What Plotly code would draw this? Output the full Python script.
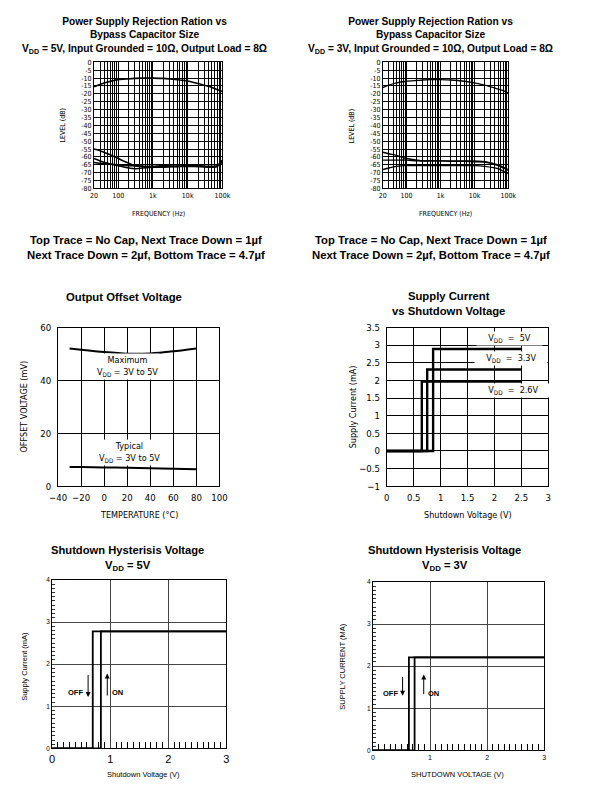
import numpy as np
import plotly.graph_objects as go

# Page 611x794; the figure sits inside the browser's default 8px body margin.
W, H = 611, 794
OFF = 8
FW, FH = W - 2 * OFF, H - 2 * OFF
SX = 0.975  # measured horizontal scale of the capture

# ---------------- data ----------------
freq_hz = [20, 30, 50, 100, 200, 300, 500, 1000, 2000, 5000, 10000, 20000, 50000, 70000, 100000]
psrr5_nocap = [-15.5, -14, -12.5, -11, -10.5, -10.2, -10, -10, -10.2, -11, -11.8, -13.5, -16, -17.3, -18.5]
psrr5_1uf = [-55, -56, -58, -61, -64, -65.5, -66, -66.5, -66, -66, -65.5, -66, -66.5, -66, -62]
psrr5_2uf = [-61, -62.5, -64, -65.5, -67, -67.5, -67, -66.5, -66.5, -66, -66, -66, -66.5, -66, -63]
psrr5_47uf = [-63.5, -64, -64.5, -65, -65.5, -65.5, -66, -66, -65.5, -66, -65.5, -65.5, -66, -65.5, -62.5]

psrr3_nocap = [-16, -14.5, -13, -12, -11.5, -11.2, -11, -11, -11.2, -12, -13, -14.5, -17, -18, -19.5]
psrr3_1uf = [-57, -58, -59, -61, -62, -62.5, -62.5, -62.5, -62.5, -62.5, -62.5, -63, -65, -66.5, -68.5]
psrr3_2uf = [-62, -62, -62, -62, -62.5, -62.5, -62.5, -62.5, -62.8, -62.8, -63, -63.2, -65.5, -67, -68]
psrr3_47uf = [-68, -67, -66, -65.5, -65.5, -65.5, -65.5, -65.5, -65.5, -65.5, -65.5, -66, -67.5, -69, -70.5]

psrr_level_ticks = list(range(-80, 1, 5))
freq_labels = {20: "20", 100: "100", 1000: "1k", 10000: "10k", 100000: "100k"}

temp_c = [-30, -20, 0, 20, 40, 60, 80]
offset_max_mv = [52.1, 51.6, 50.7, 50.1, 50.2, 51.0, 52.1]
offset_typ_mv = [7.3, 7.25, 7.1, 7.0, 6.8, 6.6, 6.4]

sd_vdd_labels = ["5V", "3.3V", "2.6V"]
sd_threshold_v = [0.86, 0.75, 0.65]
sd_current_ma = [2.89, 2.31, 1.97]
sd_sweep_end_v = 2.5

hyst5_on_v, hyst5_off_v, hyst5_ma = 0.84, 0.70, 2.78
hyst3_on_v, hyst3_off_v, hyst3_ma = 0.73, 0.63, 2.21
hyst_sweep_end_v = 3.0

# ---------------- helpers (target picture pixels -> figure fractions) ----------------
def px(x):
    return (x / SX - OFF) / FW

def py(y):
    return 1 - (y - OFF) / FH

def dx(a, b):
    return [px(a), px(b)]

def dy(top, bottom):
    return [py(bottom), py(top)]

NARROW = "Liberation Sans Narrow, DejaVu Sans Condensed, Arial Narrow, sans-serif"
ARIAL = "Liberation Sans, Arial, sans-serif"

fig = go.Figure()

grid_vals = [m * 10 ** e for e in range(1, 5) for m in range(1, 10)] + [100000]
grid_vals = [v for v in grid_vals if v >= 20]
grid_text = [freq_labels.get(v, "") for v in grid_vals]

def line(x, y, xa, ya, w=1.6, shape="spline"):
    ln = dict(color="black", width=w, shape=shape)
    if shape == "spline":
        ln["smoothing"] = 0.6
    fig.add_trace(go.Scatter(x=x, y=y, xaxis=xa, yaxis=ya, mode="lines", line=ln,
                             showlegend=False, hoverinfo="skip"))

for s in [psrr5_nocap, psrr5_1uf, psrr5_2uf, psrr5_47uf]:
    line(freq_hz, s, "x", "y")
for s in [psrr3_nocap, psrr3_1uf, psrr3_2uf, psrr3_47uf]:
    line(freq_hz, s, "x2", "y2", w=1.4)
line(temp_c, offset_max_mv, "x3", "y3", w=2)
line(temp_c, offset_typ_mv, "x3", "y3", w=2)
for th, cur in zip(sd_threshold_v, sd_current_ma):
    line([0, th, th, sd_sweep_end_v], [0, 0, cur, cur], "x4", "y4", w=2.4, shape="linear")
line([0, hyst5_on_v, hyst5_on_v, hyst_sweep_end_v], [0, 0, hyst5_ma, hyst5_ma], "x5", "y5", w=1.8, shape="linear")
line([hyst_sweep_end_v, hyst5_off_v, hyst5_off_v, 0], [hyst5_ma, hyst5_ma, 0, 0], "x5", "y5", w=1.8, shape="linear")
line([0, hyst3_on_v, hyst3_on_v, hyst_sweep_end_v], [0, 0, hyst3_ma, hyst3_ma], "x6", "y6", w=1.8, shape="linear")
line([hyst_sweep_end_v, hyst3_off_v, hyst3_off_v, 0], [hyst3_ma, hyst3_ma, 0, 0], "x6", "y6", w=1.8, shape="linear")

base = dict(showline=True, mirror=True, linecolor="black", linewidth=1, showgrid=True,
            gridcolor="black", gridwidth=1, zeroline=False, ticks="", fixedrange=True)

def ax(**kw):
    d = dict(base)
    d.update(kw)
    return d

tf7 = dict(family=NARROW, size=7, color="black")
tf9 = dict(family=NARROW, size=9.5, color="black")

layout = dict(
    width=FW, height=FH, margin=dict(l=0, r=0, t=0, b=0),
    paper_bgcolor="white", plot_bgcolor="white", showlegend=False,
    xaxis=ax(domain=dx(85, 214), anchor="y", type="log", range=[np.log10(20), 5],
             tickvals=grid_vals, ticktext=grid_text, tickfont=tf7),
    yaxis=ax(domain=dy(57, 185), anchor="x", range=[-80, 0], tickvals=psrr_level_ticks,
             ticktext=[str(v) for v in psrr_level_ticks], tickfont=tf7),
    xaxis2=ax(domain=dx(375, 501), anchor="y2", type="log", range=[np.log10(20), 5],
              tickvals=grid_vals, ticktext=grid_text, tickfont=tf7),
    yaxis2=ax(domain=dy(57, 185), anchor="x2", range=[-80, 0], tickvals=psrr_level_ticks,
              ticktext=[str(v) for v in psrr_level_ticks], tickfont=tf7),
    xaxis3=ax(domain=dx(49, 211), anchor="y3", range=[-40, 100], dtick=20, tickfont=tf9,
              ticklabelstandoff=2),
    yaxis3=ax(domain=dy(326, 487), anchor="x3", range=[0, 60], dtick=20, tickfont=tf9,
              ticklabelstandoff=4),
    xaxis4=ax(domain=dx(379, 541), anchor="y4", range=[0, 3], dtick=0.5, tickfont=tf9,
              ticklabelstandoff=2),
    yaxis4=ax(domain=dy(326, 487), anchor="x4", range=[-1, 3.5], dtick=0.5, tickfont=tf9,
              ticklabelstandoff=4),
    xaxis5=ax(domain=dx(43, 218), anchor="y5", range=[0, 3], dtick=1, gridcolor="#444",
              tickfont=dict(family=ARIAL, size=11, color="black"),
              minor=dict(ticks="inside", dtick=0.1, ticklen=6, tickcolor="black", showgrid=False)),
    yaxis5=ax(domain=dy(582, 753), anchor="x5", range=[0, 4], dtick=1, gridcolor="#444",
              tickfont=dict(family=ARIAL, size=6.5, color="black"),
              minor=dict(ticks="inside", dtick=0.1, ticklen=3, tickcolor="#333", showgrid=False)),
    xaxis6=ax(domain=dx(365, 537), anchor="y6", range=[0, 3], dtick=1, gridcolor="#444",
              tickfont=dict(family=ARIAL, size=7, color="black"),
              minor=dict(ticks="inside", dtick=0.1, ticklen=6, tickcolor="black", showgrid=False)),
    yaxis6=ax(domain=dy(584, 755), anchor="x6", range=[0, 4], dtick=1, gridcolor="#444",
              tickfont=dict(family=ARIAL, size=6.5, color="black"),
              minor=dict(ticks="inside", dtick=0.1, ticklen=3, tickcolor="#333", showgrid=False)),
)
fig.update_layout(**layout)

ann = []

def ptext(x, y, text, size, family=ARIAL, angle=0, color="black"):
    ann.append(dict(x=px(x), y=py(y), xref="paper", yref="paper", text=text, showarrow=False,
                    xanchor="center", yanchor="middle", textangle=angle,
                    font=dict(family=family, size=size, color=color)))

ptext(136, 30, "<b>Power Supply Rejection Ration vs<br>Bypass Capacitor Size<br>V<sub>DD</sub> = 5V, Input Grounded = 10Ω, Output Load = 8Ω</b>", 10.2)
ptext(423, 30, "<b>Power Supply Rejection Ration vs<br>Bypass Capacitor Size<br>V<sub>DD</sub> = 3V, Input Grounded = 10Ω, Output Load = 8Ω</b>", 10.2)
ptext(137, 244.5, "<b>Top Trace = No Cap, Next Trace Down = 1µf<br>Next Trace Down = 2µf, Bottom Trace = 4.7µf</b>", 11.3)
ptext(423, 244.5, "<b>Top Trace = No Cap, Next Trace Down = 1µf<br>Next Trace Down = 2µf, Bottom Trace = 4.7µf</b>", 11.3)
ptext(115, 295, "<b>Output Offset Voltage</b>", 11.3)
ptext(441, 301.5, "<b>Supply Current<br>vs Shutdown Voltage</b>", 11.3)
ptext(119, 560, "<b>Shutdown Hysterisis Voltage<br>V<sub>DD</sub> = 5V</b>", 11.2)
ptext(437, 560, "<b>Shutdown Hysterisis Voltage<br>V<sub>DD</sub> = 3V</b>", 11.2)

ptext(54, 121, "LEVEL (dB)", 7, NARROW, -90)
ptext(150, 211, "FREQUENCY (Hz)", 7, NARROW)
ptext(344, 121, "LEVEL (dB)", 7, NARROW, -90)
ptext(438, 211, "FREQUENCY (Hz)", 7, NARROW)
ptext(15, 406, "OFFSET VOLTAGE (mV)", 9, NARROW, -90)
ptext(130, 516, "TEMPERATURE (°C)", 9, NARROW)
ptext(345, 406, "Supply Current (mA)", 9, NARROW, -90)
ptext(460, 516, "Shutdown Voltage (V)", 9, NARROW)
ptext(15, 670, "Supply Current (mA)", 7.5, ARIAL, -90)
ptext(135, 779, "Shutdown Voltage (V)", 7.5, ARIAL)
ptext(335, 670, "SUPPLY CURRENT (MA)", 7.5, ARIAL, -90)
ptext(450, 779, "SHUTDOWN VOLTAGE (V)", 7.5, ARIAL)

def dtext(x, y, text, xa, ya, size, family=NARROW, bg="white"):
    ann.append(dict(x=x, y=y, xref=xa, yref=ya, text=text, showarrow=False, bgcolor=bg,
                    xanchor="center", yanchor="middle", borderpad=1,
                    font=dict(family=family, size=size, color="black")))

dtext(20, 45.2, "Maximum<br>V<sub>DD</sub> = 3V to 5V", "x3", "y3", 9)
dtext(22, 12.8, "Typical<br>V<sub>DD</sub> = 3V to 5V", "x3", "y3", 9)
for lab, yy, xx in zip(sd_vdd_labels, [3.19, 2.63, 1.71], [2.28, 2.31, 2.35]):
    dtext(xx, yy, "&nbsp;&nbsp;&nbsp;&nbsp;V<sub>DD</sub>&nbsp;&nbsp;=&nbsp;&nbsp;" + lab + "&nbsp;&nbsp;&nbsp;&nbsp;",
          "x4", "y4", 9)

def arrow(xa, ya, x, y0, y1):
    ann.append(dict(x=x, y=y1, ax=x, ay=y0, xref=xa, yref=ya, axref=xa, ayref=ya, text="",
                    showarrow=True, arrowhead=2, arrowsize=1, arrowwidth=1, arrowcolor="black"))

arrow("x5", "y5", 0.62, 1.78, 1.22)
arrow("x5", "y5", 0.95, 1.22, 1.78)
dtext(0.4, 1.33, "<b>OFF</b>", "x5", "y5", 7.5, ARIAL, bg="rgba(0,0,0,0)")
dtext(1.13, 1.33, "<b>ON</b>", "x5", "y5", 7.5, ARIAL, bg="rgba(0,0,0,0)")
arrow("x6", "y6", 0.52, 1.78, 1.3)
arrow("x6", "y6", 0.89, 1.3, 1.8)
dtext(0.3, 1.36, "<b>OFF</b>", "x6", "y6", 7.5, ARIAL, bg="rgba(0,0,0,0)")
dtext(1.06, 1.36, "<b>ON</b>", "x6", "y6", 7.5, ARIAL, bg="rgba(0,0,0,0)")

fig.update_layout(annotations=ann)

fig.write_html("out.html", config={"displayModeBar": False})
